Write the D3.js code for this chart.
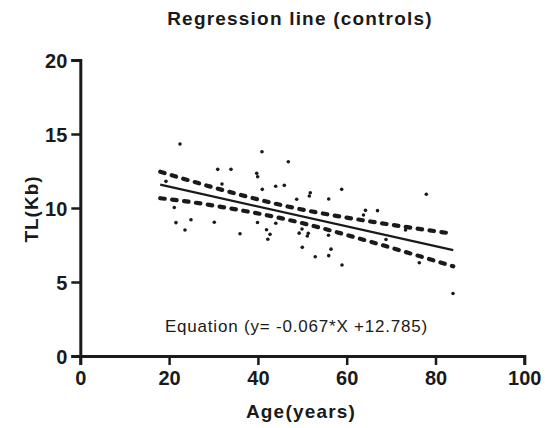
<!DOCTYPE html>
<html><head><meta charset="utf-8">
<script src="https://cdn.jsdelivr.net/npm/d3@7"></script>
<style>
body{margin:0;background:#fff;}
text{font-family:"Liberation Sans",Arial,sans-serif;fill:#1a1a1a;}
</style></head>
<body>
<svg id="c" width="545" height="428"></svg>
<script>
// ---- data ----
const ages = [22.45,40.92,46.85,30.95,33.94,39.73,39.95,19.30,31.91,40.99,44.01,45.95,58.87,51.80,51.58,48.74,55.95,21.17,24.93,21.55,30.18,39.91,44.03,23.58,35.97,41.94,42.73,42.23,49.93,49.30,51.35,51.13,55.90,50.00,56.46,52.91,55.95,58.94,64.23,63.78,66.94,68.85,73.24,76.35,77.93,83.94];
const tl   = [14.32,13.80,13.13,12.61,12.61,12.34,12.11,11.80,11.62,11.26,11.47,11.53,11.26,11.03,10.81,10.59,10.61,10.03,9.21,9.01,9.04,9.02,8.97,8.51,8.26,8.53,8.22,7.89,8.58,8.30,8.29,8.11,8.16,7.34,7.22,6.71,6.78,6.15,9.84,9.53,9.82,7.87,8.51,6.30,10.93,4.22];
const lineX = [18,84];
const lineY = [11.579,7.157];
const bandX = [18,25,32,39,46,53,60,67,74,84];
const bandUpper = [12.45,11.82,11.22,10.66,10.15,9.72,9.35,9.01,8.69,8.26];
const bandLower = [10.66,10.40,10.06,9.69,9.26,8.75,8.18,7.58,6.96,6.06];
const xTicks = [0,20,40,60,80,100];
const yTicks = [0,5,10,15,20];
const title = "Regression line (controls)";
const xTitle = "Age(years)";
const yTitle = "TL(Kb)";
const equation = "Equation (y= -0.067*X +12.785)";

// ---- chart ----
const svg = d3.select("#c");
const ink = "#1a1a1a";
const x = d3.scaleLinear().domain([0,100]).range([80.3,524.3]);
const y = d3.scaleLinear().domain([0,20]).range([356,60]);

const xAxis = svg.append("g").attr("transform","translate(0,356)")
  .call(d3.axisBottom(x).tickValues(xTicks).tickSize(9).tickPadding(6).tickFormat(d3.format("d")));
const yAxis = svg.append("g").attr("transform","translate(80.3,0)")
  .call(d3.axisLeft(y).tickValues(yTicks).tickSize(9).tickPadding(4).tickFormat(d3.format("d")));
[xAxis,yAxis].forEach(g=>{
  g.select(".domain").attr("stroke",ink).attr("stroke-width",3);
  g.selectAll(".tick line").attr("stroke",ink).attr("stroke-width",2.5);
  g.selectAll(".tick text").attr("fill",ink).style("font-size","20px").style("font-weight","bold")
   .style("font-family","'Liberation Sans',Arial,sans-serif");
});
xAxis.selectAll(".tick text").attr("dy","0.72em");
yAxis.selectAll(".tick text").attr("dy","0.36em");

// bands
const bandLine = d3.line().x((d,i)=>x(bandX[i])).y(d=>y(d)).curve(d3.curveMonotoneX);
[bandUpper,bandLower].forEach(arr=>{
  svg.append("path").attr("d",bandLine(arr)).attr("fill","none").attr("stroke",ink)
    .attr("stroke-width",4.2).attr("stroke-dasharray","4.5,7.5").attr("stroke-linecap","round");
});
// regression line
svg.append("path").attr("d",d3.line().x((d,i)=>x(lineX[i])).y(d=>y(d))(lineY))
  .attr("fill","none").attr("stroke",ink).attr("stroke-width",2.2);

// points
svg.append("g").selectAll("circle").data(ages).join("circle")
  .attr("cx",d=>x(d)).attr("cy",(d,i)=>y(tl[i])).attr("r",1.8).attr("fill",ink);

// texts
svg.append("text").attr("x",300).attr("y",25).attr("text-anchor","middle")
  .style("font-size","19px").style("font-weight","bold").style("letter-spacing","1.2px").text(title);
svg.append("text").attr("x",301).attr("y",418).attr("text-anchor","middle")
  .style("font-size","19px").style("font-weight","bold").style("letter-spacing","1.2px").text(xTitle);
svg.append("text").attr("transform","translate(38,209) rotate(-90)").attr("text-anchor","middle")
  .style("font-size","19px").style("font-weight","bold").style("letter-spacing","1px").text(yTitle);
svg.append("text").attr("x",296.5).attr("y",332).attr("text-anchor","middle")
  .style("font-size","17px").style("letter-spacing","0.8px").text(equation);
</script>
</body></html>
